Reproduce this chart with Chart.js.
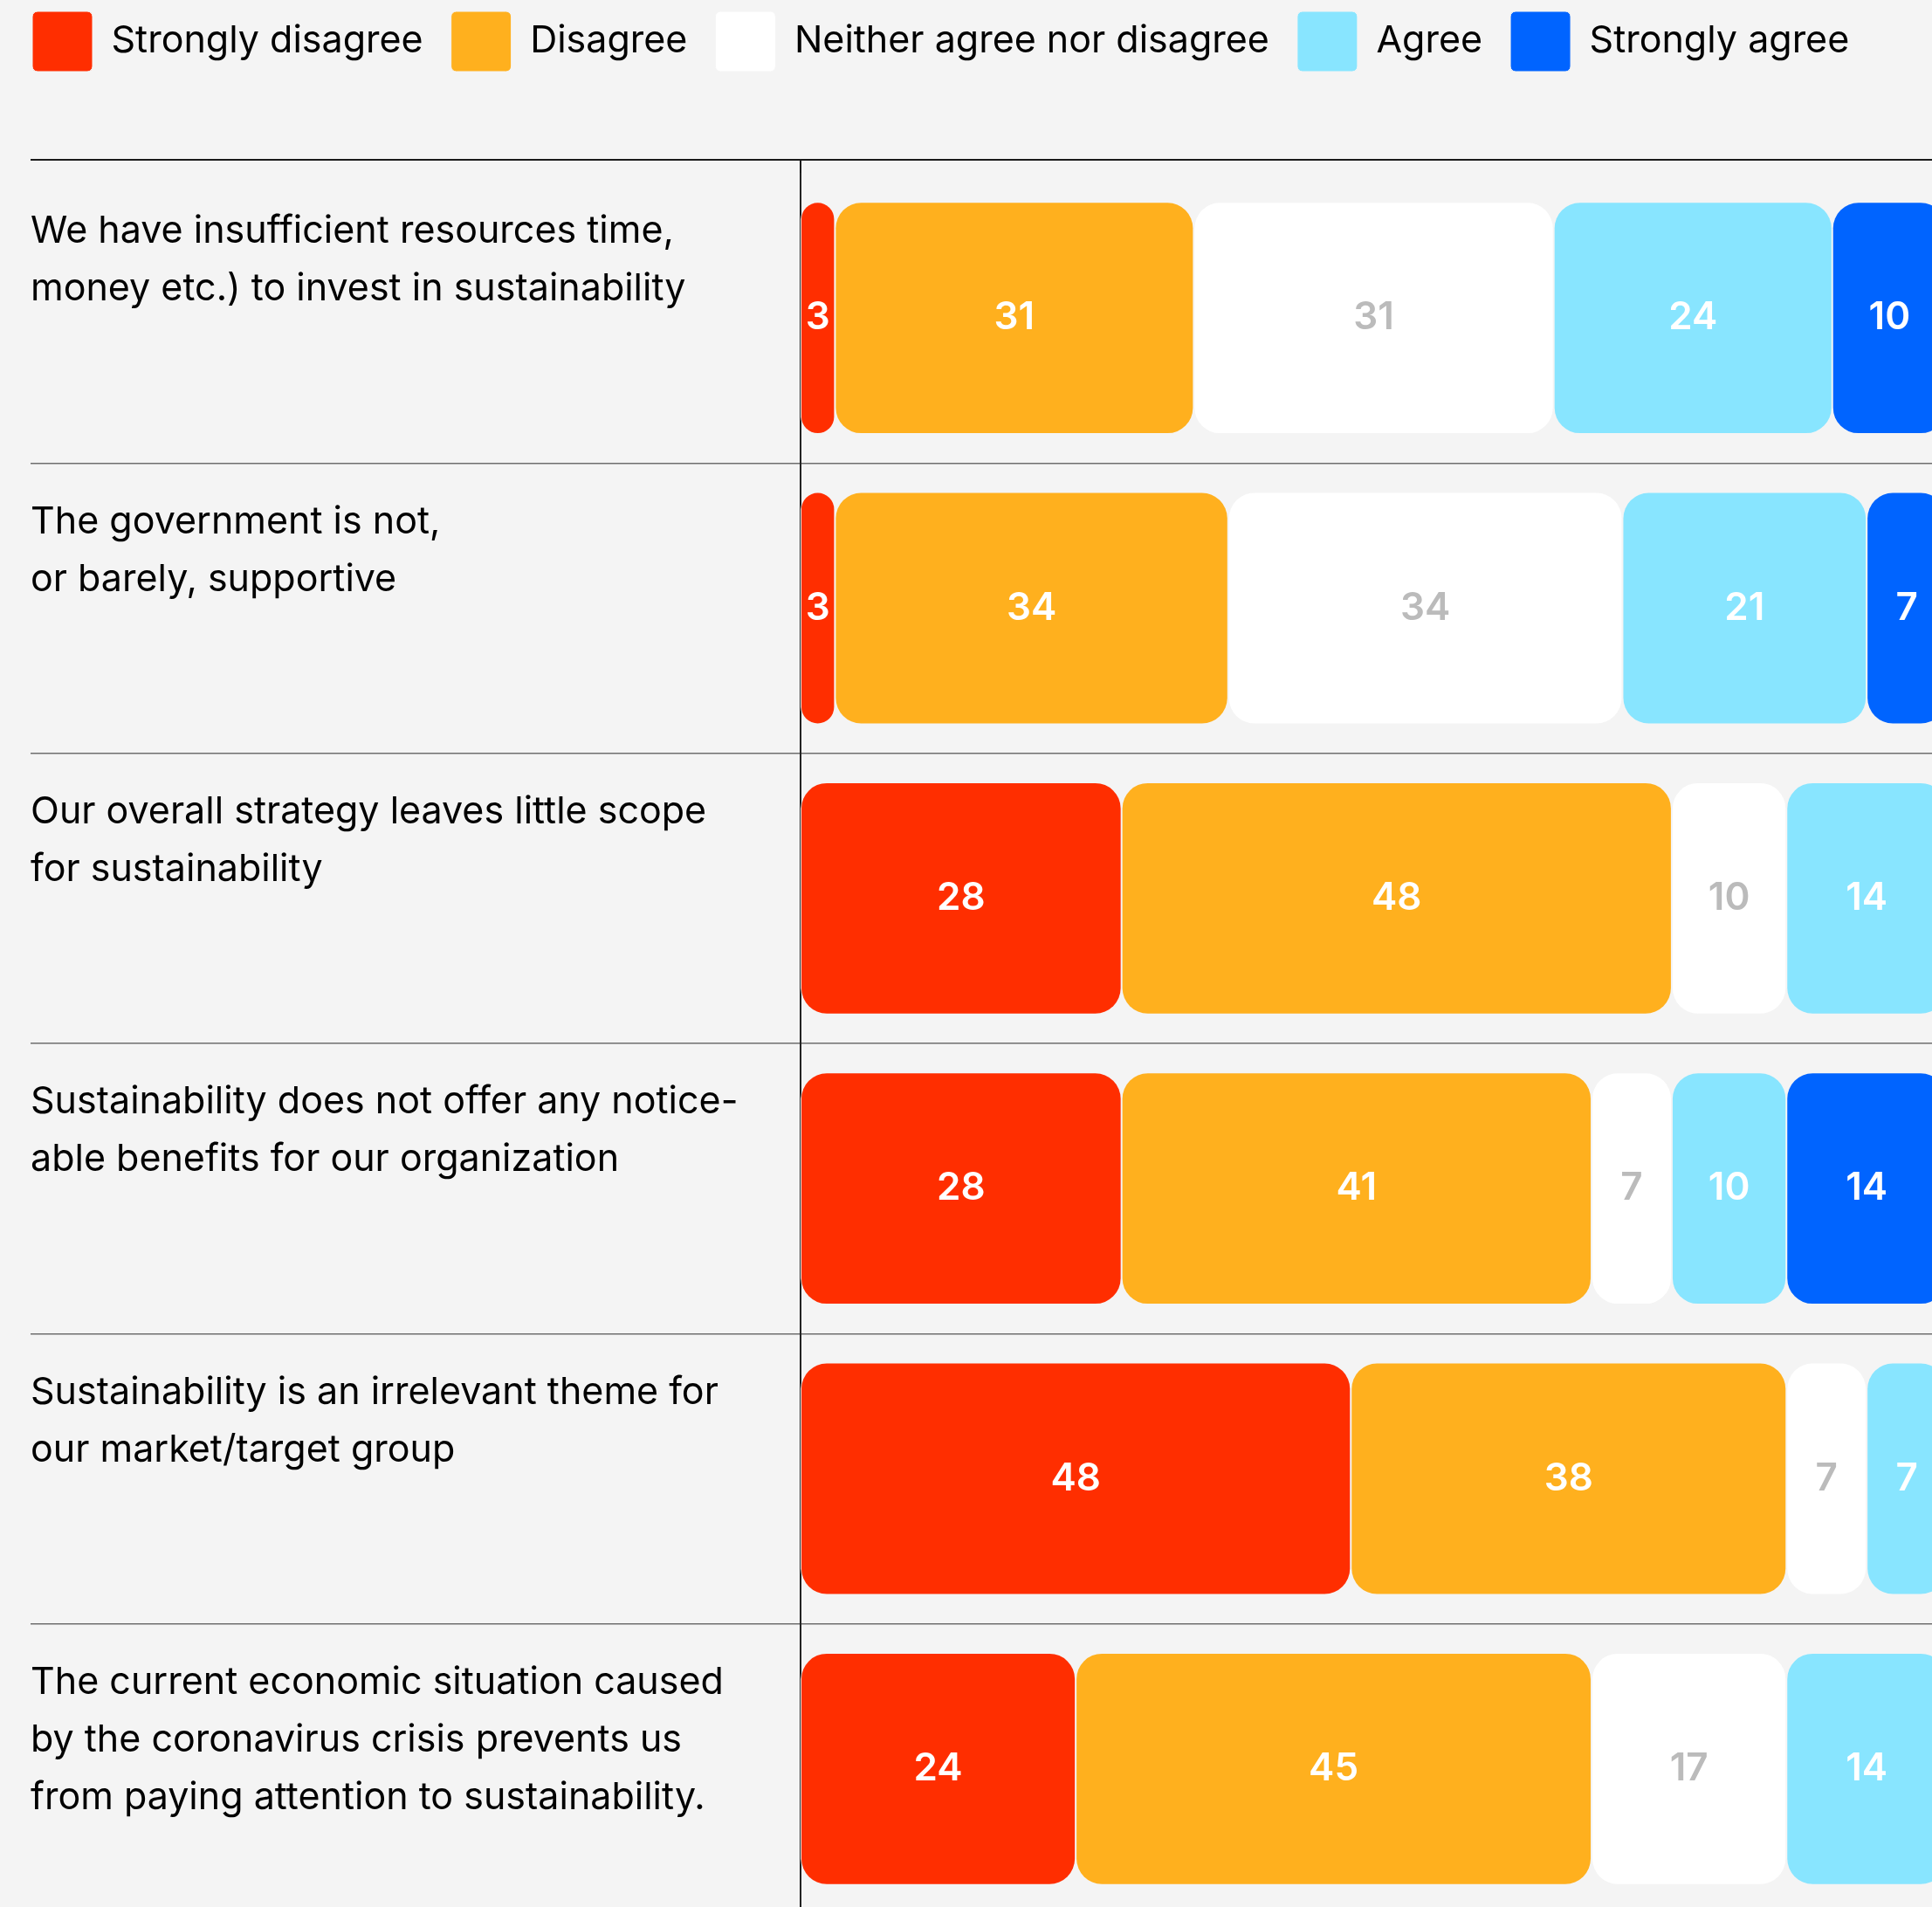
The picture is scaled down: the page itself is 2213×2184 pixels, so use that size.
<!DOCTYPE html>
<html>
<head>
<meta charset="utf-8">
<title>Barriers to sustainability</title>
<script src="https://cdn.jsdelivr.net/npm/chart.js@4.4.1/dist/chart.umd.min.js"></script>
<style>
  html, body { margin: 0; padding: 0; background: #f4f4f4; overflow: hidden; }
  #wrap { position: relative; width: 2213px; height: 2192px; }
</style>
</head>
<body>
<div id="wrap"><canvas id="my_chart"></canvas></div>
<script>
// statements (y axis), one entry per row
var statements = [
    ['We have insufficient resources time,', 'money etc.) to invest in sustainability'],
    ['The government is not,', 'or barely, supportive'],
    ['Our overall strategy leaves little scope', 'for sustainability'],
    ['Sustainability does not offer any notice-', 'able benefits for our organization'],
    ['Sustainability is an irrelevant theme for', 'our market/target group'],
    ['The current economic situation caused', 'by the coronavirus crisis prevents us', 'from paying attention to sustainability.']
];

var answers = ['Strongly disagree', 'Disagree', 'Neither agree nor disagree', 'Agree', 'Strongly agree'];
var answerColors = ['#ff2e00', '#ffb01e', '#ffffff', '#88e5ff', '#0064ff'];

// shares in %, labels show them rounded
var stronglyDisagree = [3, 3, 28, 28, 48, 24];
var disagree = [31.3, 34.3, 48, 41, 38, 45];
var neither = [31.4, 34.4, 10, 7, 7, 17];
var agree = [24.3, 21.3, 14, 10, 7, 14];
var stronglyAgree = [10, 7, null, 14, null, null];

var BG = '#f4f4f4';
var LEGEND_PAD = 32;

Chart.defaults.font.family = 'Inter';
Chart.defaults.color = '#000';

// labels sit at the top of their row, so pad every label to 4 lines
function padLabel(lines) {
    var out = lines.slice();
    while (out.length < 4) out.push('');
    return out;
}

function makeDataset(i, values) {
    return {
        label: answers[i],
        data: values,
        backgroundColor: answerColors[i],
        borderColor: BG,
        borderWidth: 1,
        borderSkipped: false,
        borderRadius: {topLeft: 30, topRight: 30, bottomLeft: 30, bottomRight: 30},
        barPercentage: 0.8,
        categoryPercentage: 1
    };
}

var barValues = {
    id: 'barValues',
    afterDatasetsDraw: function (chart) {
        var ctx = chart.ctx;
        ctx.save();
        ctx.font = '600 44px Inter';
        ctx.textAlign = 'center';
        ctx.textBaseline = 'middle';
        chart.data.datasets.forEach(function (ds, i) {
            var meta = chart.getDatasetMeta(i);
            meta.data.forEach(function (bar, j) {
                var v = ds.data[j];
                if (v == null) return;
                var c = bar.getCenterPoint();
                ctx.fillStyle = (i == 2) ? '#bbbbbb' : '#ffffff';
                ctx.fillText(Math.round(v), c.x, c.y);
            });
        });
        ctx.restore();
    }
};

var frame = {
    id: 'frame',
    beforeInit: function (chart) {
        // leave room between legend and first row
        var fit = chart.legend.fit;
        chart.legend.fit = function () {
            fit.call(this);
            this.height = 198;
        };
    },
    afterLayout: function (chart) {
        // first legend box goes to x=37, y=12
        chart.legend.left -= LEGEND_PAD - 2;
        chart.legend.top -= LEGEND_PAD - 13;
    },
    beforeDatasetsDraw: function (chart) {
        var ctx = chart.ctx;
        var area = chart.chartArea;
        var y = area.top - 15;
        ctx.save();
        ctx.strokeStyle = '#1a1a1a';
        ctx.lineWidth = 2;
        ctx.beginPath();
        ctx.moveTo(35, y);
        ctx.lineTo(chart.width, y);
        ctx.moveTo(area.left, y);
        ctx.lineTo(area.left, area.top);
        ctx.stroke();
        ctx.restore();
    }
};

var ctx = document.getElementById('my_chart').getContext('2d');
var chart = new Chart(ctx, {
    type: 'bar',
    data: {
        labels: statements.map(padLabel),
        datasets: [
            makeDataset(0, stronglyDisagree),
            makeDataset(1, disagree),
            makeDataset(2, neither),
            makeDataset(3, agree),
            makeDataset(4, stronglyAgree)
        ]
    },
    options: {
        indexAxis: 'y',
        responsive: true,
        maintainAspectRatio: false,
        animation: false,
        layout: { padding: { left: 35, top: 0, right: 0, bottom: 0 } },
        scales: {
            x: {
                stacked: true,
                min: 0,
                max: 98.7,
                display: false
            },
            y: {
                stacked: true,
                position: 'left',
                afterFit: function (scale) {
                    scale.width = 882;
                    // tall padded labels must not shrink the plot
                    scale.paddingTop = 0;
                    scale.paddingBottom = 0;
                },
                grid: {
                    offset: true,
                    tickLength: 882,
                    lineWidth: 1.5,
                    color: function (c) { return c.index === 0 ? 'rgba(0,0,0,0)' : '#6e6e6e'; }
                },
                border: { display: true, color: '#222222', width: 2 },
                ticks: {
                    crossAlign: 'far',
                    autoSkip: false,
                    padding: 0,
                    color: '#000',
                    font: { size: 43, lineHeight: 1.53 }
                }
            }
        },
        plugins: {
            legend: {
                position: 'top',
                align: 'start',
                labels: {
                    boxWidth: 69,
                    boxHeight: 69,
                    padding: LEGEND_PAD,
                    useBorderRadius: true,
                    borderRadius: 6,
                    color: '#000',
                    font: { size: 43 }
                }
            },
            tooltip: { enabled: false }
        }
    },
    plugins: [barValues, frame]
});
</script>
</body>
</html>
